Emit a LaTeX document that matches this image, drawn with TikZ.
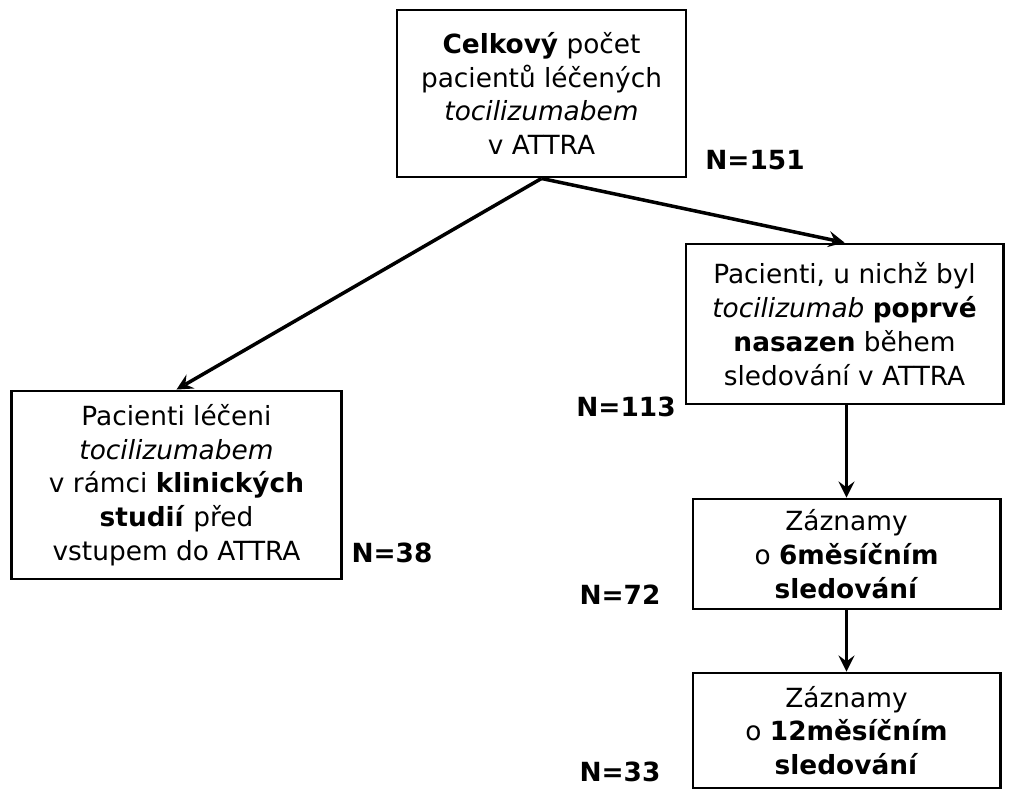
\documentclass[tikz,border=0pt]{standalone}
\usepackage{fontspec}
\setmainfont{DejaVu Sans}
\begin{document}
\begin{tikzpicture}[x=0.01cm,y=-0.01cm]
\useasboundingbox (0,0) rectangle (1009,800);
\begin{scope}[every node/.style={draw,line width=0.8pt,align=center,inner sep=0pt,font=\fontsize{7.5}{9.6}\selectfont}]
    \node[minimum width=2.89cm,minimum height=1.67cm] (N1) at (541.5,93.5) {\textbf{Celkový} počet\\pacientů léčených\\\textit{tocilizumabem}\\v ATTRA};
    \node[minimum width=3.17cm,minimum height=1.60cm] (N21) at (844.5,324) {Pacienti, u nichž byl\\\textit{tocilizumab} \textbf{poprvé}\\\textbf{nasazen} během\\sledování v ATTRA};
    \node[minimum width=3.29cm,minimum height=1.88cm] (N22) at (176.5,485) {Pacienti léčeni\\\textit{tocilizumabem}\\v rámci \textbf{klinických}\\\textbf{studií} před\\vstupem do ATTRA};
    \node[minimum width=3.07cm,minimum height=1.10cm] (N31) at (846.5,554) {Záznamy\\o \textbf{6měsíčním}\\\textbf{sledování}};
    \node[minimum width=3.07cm,minimum height=1.15cm] (N41) at (846.5,730.5) {Záznamy\\o \textbf{12měsíčním}\\\textbf{sledování}};
\end{scope}
\begin{scope}[every node/.style={font=\fontsize{7.5}{9}\selectfont\bfseries}]
    \node (L1) at (755,160) {N=151};
    \node (L21) at (626,407) {N=113};
    \node (L22) at (392,553) {N=38};
    \node (L31) at (620,595) {N=72};
    \node (L41) at (620,772) {N=33};
\end{scope}
\begin{scope}[-stealth,line width=1pt]
    \draw (N1.south) -- (N21.north);
    \draw (N1.south) -- (N22.north);
    \draw (N21.south-|N31) -- (N31.north);
    \draw (N31.south) -- (N41.north);
\end{scope}
\end{tikzpicture}
\end{document}
